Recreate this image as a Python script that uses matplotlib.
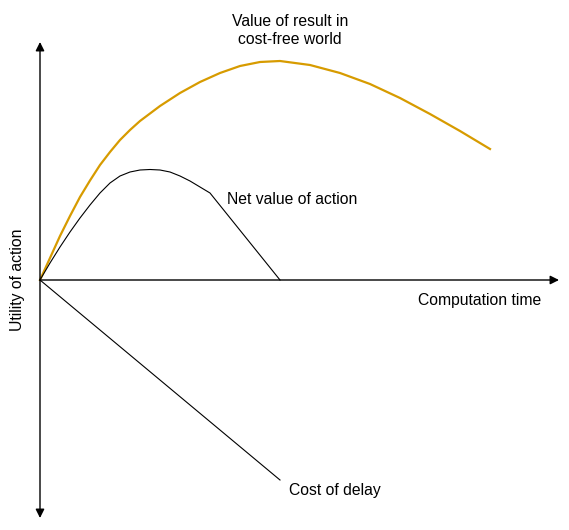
import matplotlib.pyplot as plt

plt.rcParams['font.family'] = ['Liberation Sans', 'DejaVu Sans']

# computation time (x) / utility (y), origin where the axes cross
value_t = [0, 10, 20, 30, 40, 50, 60, 70, 80, 90, 100, 120, 140, 160, 180, 200, 220, 240,
           270, 300, 330, 360, 390, 420, 450]
value_u = [0, 22, 44, 64, 83, 99.5, 115, 128, 140, 150, 159, 174, 187, 198, 207, 214, 218, 219,
           215, 207, 196, 182, 166, 149, 131]

net_t = [0, 10, 20, 30, 40, 50, 60, 70, 80, 90, 100, 110, 120, 130, 140, 150, 160, 170, 240]
net_u = [0, 17, 33, 48, 62, 75, 87, 97, 104, 108, 110, 110.5, 110, 108, 104, 99, 93, 87, 0]

cost_t = [0, 240]
cost_u = [0, -200]

fig = plt.figure(figsize=(5.69, 5.30), dpi=100)
ax = fig.add_axes([0, 0, 1, 1])
ax.set_xlim(-40, 529)
ax.set_ylim(-250, 280)
ax.axis('off')

# axes arrows
ax.annotate('', xy=(0, 238), xytext=(0, -238),
            arrowprops=dict(arrowstyle='<|-|>', color='black', lw=1, mutation_scale=13, shrinkA=0, shrinkB=0))
ax.annotate('', xy=(519, 0), xytext=(0, 0),
            arrowprops=dict(arrowstyle='-|>', color='black', lw=1, mutation_scale=13, shrinkA=0, shrinkB=0))

ax.plot(value_t, value_u, color='#d79b00', lw=1.6, solid_joinstyle='round')
ax.plot(net_t, net_u, color='black', lw=0.8, solid_joinstyle='round')
ax.plot(cost_t, cost_u, color='black', lw=0.8)

fs = 11.3
ax.text(250, 250, 'Value of result in\ncost-free world', ha='center', va='center', fontsize=fs, linespacing=1.25)
ax.text(187, 81, 'Net value of action', ha='left', va='center', fontsize=fs)
ax.text(378, -20, 'Computation time', ha='left', va='center', fontsize=fs)
ax.text(249, -210, 'Cost of delay', ha='left', va='center', fontsize=fs)
ax.text(-22, 0, 'Utility of action', ha='center', va='center', rotation=90, fontsize=fs)

fig.savefig('out.png', dpi=100)
